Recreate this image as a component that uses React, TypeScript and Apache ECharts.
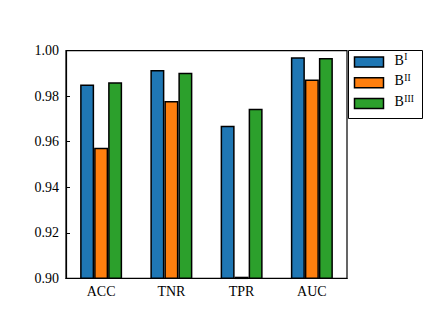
import React, { useEffect, useRef } from "react";
import * as echarts from "echarts";

const categories = ["ACC", "TNR", "TPR", "AUC"];
const seriesNames = ["I", "II", "III"];
const valuesB1 = [0.9852, 0.9915, 0.967, 0.9971];
const valuesB2 = [0.9574, 0.9779, 0.9007, 0.9873];
const valuesB3 = [0.9861, 0.9903, 0.9745, 0.9968];
const yTicks = [0.9, 0.92, 0.94, 0.96, 0.98, 1.0];
const colors = ["#1f77b4", "#ff7f0e", "#2ca02c"];

const FONT = "'Liberation Serif', 'Times New Roman', serif";

export default function App() {
  const ref = useRef<HTMLDivElement>(null);
  useEffect(() => {
    if (!ref.current) return;
    const chart = echarts.init(ref.current, null, { renderer: "svg" });
    const data = [valuesB1, valuesB2, valuesB3];
    const legendItems: any[] = [];
    legendItems.push({
      type: "rect",
      shape: { x: 348.5, y: 50.5, width: 74, height: 68 },
      style: { fill: "#fff", stroke: "#000", lineWidth: 1 },
      z: 10,
    });
    seriesNames.forEach((s, i) => {
      const cy = 62 + i * 20.8;
      legendItems.push({
        type: "rect",
        shape: { x: 354.5, y: cy - 5, width: 29, height: 10 },
        style: { fill: colors[i], stroke: "#000", lineWidth: 1.5 },
        z: 11,
      });
      legendItems.push({
        type: "text",
        x: 394.5,
        y: cy + 5,
        style: {
          text: "{b|B}{s|" + s + "}",
          textVerticalAlign: "bottom",
          rich: {
            b: { fontFamily: FONT, fontSize: 14, fill: "#000", lineHeight: 15, verticalAlign: "bottom" },
            s: { fontFamily: FONT, fontSize: 9.5, fill: "#000", lineHeight: 15, verticalAlign: "top", padding: [0, 0, 0, 0.5] },
          },
        },
        z: 12,
      });
    });
    chart.setOption({
      animation: false,
      backgroundColor: "#fff",
      grid: {
        left: 66,
        top: 50.7,
        width: 281,
        height: 227.6,
        show: true,
        borderColor: "#000",
        borderWidth: 1.2,
        backgroundColor: "transparent",
      },
      xAxis: {
        type: "category",
        data: categories,
        axisLine: { lineStyle: { color: "#000", width: 1.2 } },
        axisTick: { inside: true, alignWithLabel: true, length: 4, lineStyle: { color: "#000", width: 1 } },
        axisLabel: { fontFamily: FONT, fontSize: 14, color: "#000", margin: 6 },
        splitLine: { show: false },
      },
      yAxis: {
        type: "value",
        min: yTicks[0],
        max: yTicks[yTicks.length - 1],
        interval: 0.02,
        axisLine: { show: true, lineStyle: { color: "#000", width: 1.2 } },
        axisTick: { show: true, inside: true, length: 4, lineStyle: { color: "#000", width: 1 } },
        axisLabel: {
          fontFamily: FONT,
          fontSize: 14,
          color: "#000",
          margin: 7,
          formatter: (v: number) => v.toFixed(2),
        },
        splitLine: { show: false },
      },
      series: data.map((d, i) => ({
        type: "bar",
        name: "B" + seriesNames[i],
        data: d,
        barWidth: 14,
        barGap: "0%",
        itemStyle: { color: colors[i], borderColor: "#000", borderWidth: 1.5 },
      })),
      graphic: legendItems,
    });
    return () => chart.dispose();
  }, []);
  return <div ref={ref} style={{ position: "fixed", left: 0, top: 0, width: 436, height: 329 }} />;
}
